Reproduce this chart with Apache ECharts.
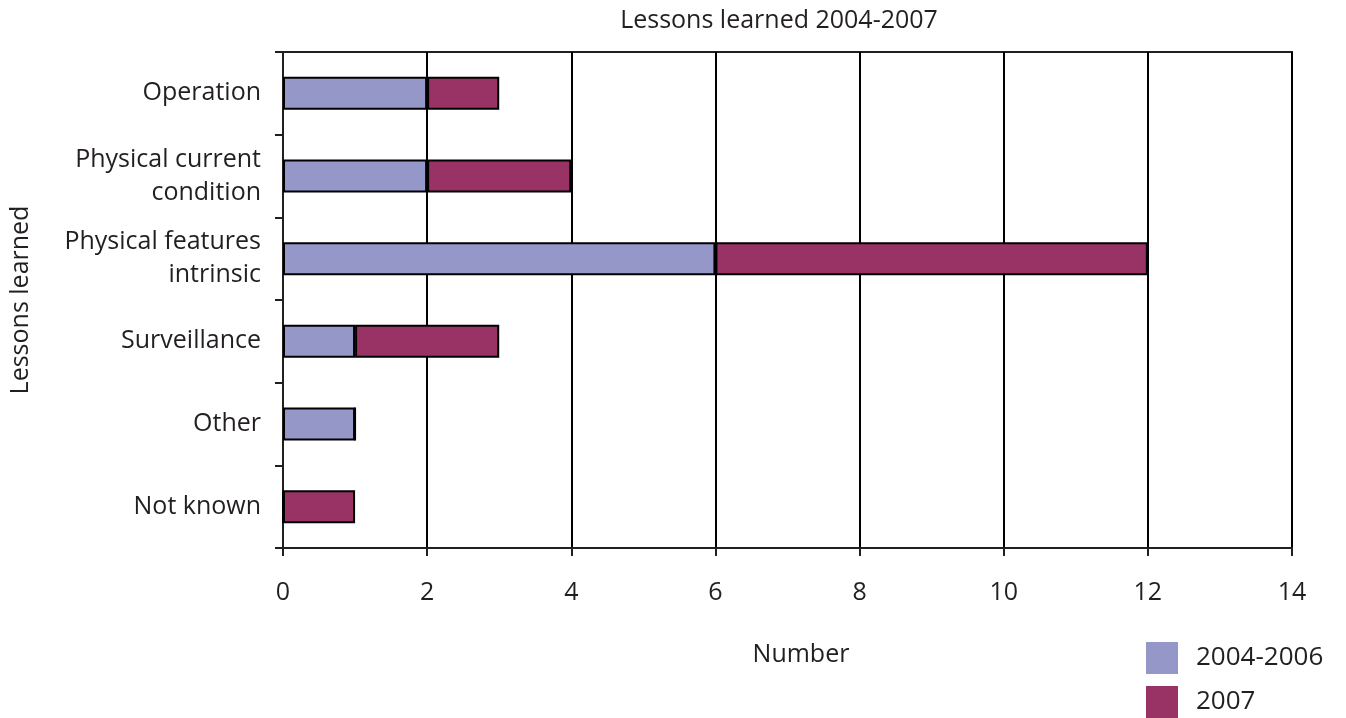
<!DOCTYPE html>
<html>
<head>
<meta charset="utf-8">
<title>Lessons learned 2004-2007</title>
<script src="https://cdn.jsdelivr.net/npm/echarts@6/dist/echarts.min.js"></script>
<style>
  html, body { margin: 0; padding: 0; background: #fff; }
  #chart { width: 1346px; height: 718px; }
</style>
</head>
<body>
<div id="chart"></div>
<script>
// Categories, top to bottom
const categories = [
  'Operation',
  'Physical current\ncondition',
  'Physical features\nintrinsic',
  'Surveillance',
  'Other',
  'Not known'
];
// Counts per period
const values20042006 = [2, 2, 6, 1, 1, 0];
const values2007 = [1, 2, 6, 2, 0, 1];
// Value axis ticks
const xTicks = [0, 2, 4, 6, 8, 10, 12, 14];

const FONT = '"Open Sans", "Noto Sans", sans-serif';
const TEXT = '#231f20';
const COLOR_A = '#9597c9';
const COLOR_B = '#993366';

const chart = echarts.init(document.getElementById('chart'));
chart.setOption({
  backgroundColor: '#fff',
  animation: false,
  textStyle: { fontFamily: FONT, color: TEXT },
  title: [
    {
      text: 'Lessons learned 2004-2007',
      left: 779, top: 8, textAlign: 'center', padding: 0,
      textStyle: { fontFamily: FONT, fontSize: 25, fontWeight: 'normal', color: TEXT }
    },
    {
      text: 'Number',
      left: 801, top: 642, textAlign: 'center', padding: 0,
      textStyle: { fontFamily: FONT, fontSize: 25, fontWeight: 'normal', color: TEXT }
    }
  ],
  legend: {
    orient: 'vertical',
    left: 1146, top: 642,
    padding: 0,
    itemWidth: 32, itemHeight: 32, itemGap: 12,
    icon: 'rect',
    itemStyle: { borderWidth: 0 },
    textStyle: { fontFamily: FONT, fontSize: 26, color: TEXT, padding: [0, 0, 0, 13] },
    data: ['2004-2006', '2007']
  },
  grid: {
    left: 280, right: 54, top: 52, bottom: 170,
    show: true, borderColor: '#231f20', borderWidth: 2,
    containLabel: false
  },
  xAxis: {
    type: 'value',
    min: xTicks[0], max: xTicks[xTicks.length - 1], interval: 2,
    axisLine: { show: true, lineStyle: { color: '#231f20', width: 2 } },
    axisTick: { show: true, length: 8, lineStyle: { color: '#231f20', width: 2 } },
    splitLine: { show: true, lineStyle: { color: '#000', width: 2 } },
    axisLabel: { fontFamily: FONT, fontSize: 25, color: TEXT, margin: 32 }
  },
  yAxis: {
    type: 'category',
    inverse: true,
    data: categories,
    name: 'Lessons learned',
    nameLocation: 'middle',
    nameGap: 250,
    nameRotate: 90,
    nameTextStyle: { fontFamily: FONT, fontSize: 25, color: TEXT },
    axisLine: { show: true, lineStyle: { color: '#231f20', width: 2 } },
    axisTick: { show: true, length: 8, alignWithLabel: false, lineStyle: { color: '#231f20', width: 2 } },
    axisLabel: { fontFamily: FONT, fontSize: 25, color: TEXT, margin: 22, lineHeight: 33, align: 'right' }
  },
  series: [
    {
      name: '2004-2006', type: 'bar', stack: 'total',
      data: values20042006,
      barWidth: 33,
      itemStyle: { color: COLOR_A, borderColor: '#000', borderWidth: 2 }
    },
    {
      name: '2007', type: 'bar', stack: 'total',
      data: values2007,
      barWidth: 33,
      itemStyle: { color: COLOR_B, borderColor: '#000', borderWidth: 2 }
    }
  ]
});
</script>
</body>
</html>
